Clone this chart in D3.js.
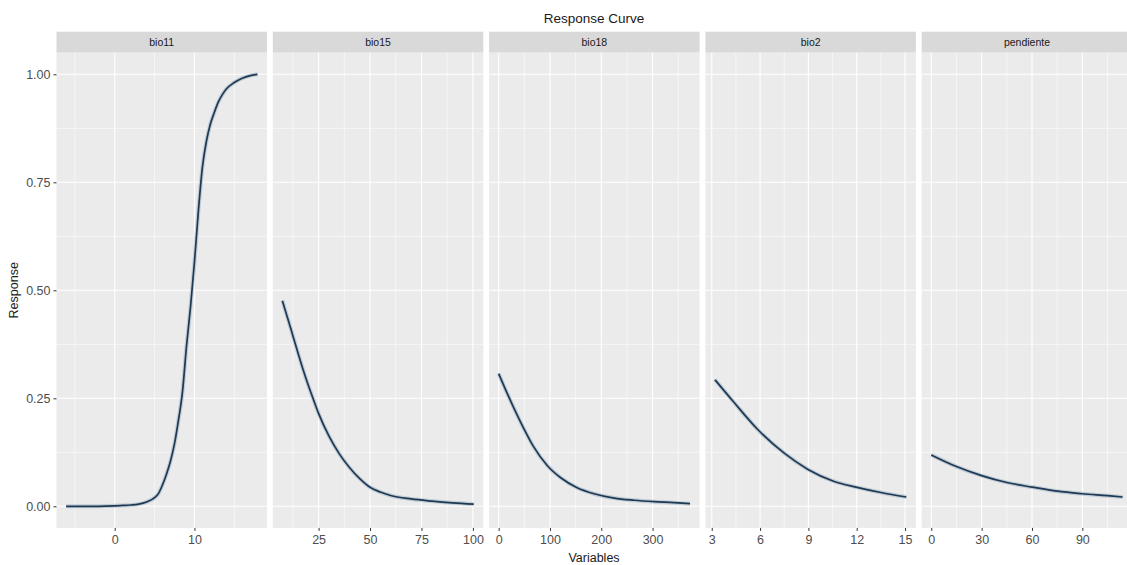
<!DOCTYPE html>
<html><head><meta charset="utf-8">
<script src="https://cdn.jsdelivr.net/npm/d3@7"></script>
<style>
html,body{margin:0;padding:0;background:#fff;overflow:hidden;}
svg{display:block;font-family:"Liberation Sans",Arial,sans-serif;}
</style>
</head><body>
<svg id="chart" width="1127" height="565"></svg>
<script>
// ---- data ----
const panelNames = ["bio11", "bio15", "bio18", "bio2", "pendiente"];

const bio11X = [-6.1,-4,-2,0,1,2,3,4,5,5.5,6,6.5,7,7.5,8,8.5,9,9.5,10,10.5,11,11.5,12,12.5,13,13.5,14,15,16,17,17.9];
const bio11Y = [0,0,0,0.001,0.002,0.003,0.005,0.010,0.020,0.030,0.050,0.075,0.105,0.145,0.200,0.265,0.370,0.460,0.565,0.685,0.785,0.845,0.885,0.912,0.936,0.953,0.966,0.981,0.991,0.997,1.000];

const bio15X = [7.4,10,12.5,15,17.5,20,22.5,25,30,35,40,45,50,55,60,70,80,90,100.4];
const bio15Y = [0.476,0.435,0.395,0.355,0.316,0.280,0.247,0.215,0.163,0.122,0.090,0.064,0.044,0.033,0.025,0.017,0.012,0.008,0.005];

const bio18X = [0,16,29,49,68,95,121,153,186,225,264,303,342,373];
const bio18Y = [0.307,0.263,0.229,0.180,0.138,0.094,0.066,0.043,0.029,0.019,0.014,0.0107,0.0084,0.006];

const bio2X = [3.2,4.35,5.9,7.5,8.95,10.6,11.95,13.5,15.08];
const bio2Y = [0.293,0.242,0.176,0.123,0.086,0.0575,0.0445,0.032,0.0215];

const pendX = [0,15,30,45,60,75,90,105,114];
const pendY = [0.119,0.092,0.071,0.055,0.0445,0.035,0.029,0.0245,0.0215];

const bio11Ticks = [0, 10];
const bio15Ticks = [25, 50, 75, 100];
const bio18Ticks = [0, 100, 200, 300];
const bio2Ticks = [3, 6, 9, 12, 15];
const pendTicks = [0, 30, 60, 90];

const yTicks = [0, 0.25, 0.5, 0.75, 1];
const yTickLabels = ["0.00", "0.25", "0.50", "0.75", "1.00"];

const titleText = "Response Curve";
const xLabel = "Variables";
const yLabel = "Response";

// ---- build panel table ----
const xs = [bio11X, bio15X, bio18X, bio2X, pendX];
const ys = [bio11Y, bio15Y, bio18Y, bio2Y, pendY];
const ticks = [bio11Ticks, bio15Ticks, bio18Ticks, bio2Ticks, pendTicks];
const panels = panelNames.map((name, i) => ({
  name,
  points: xs[i].map((x, j) => ({x, y: ys[i][j]})),
  ticks: ticks[i]
}));

// ---- layout ----
const svg = d3.select("#chart");
const left0 = 56.5, step = 216.3, pw = 210.5;
const stripTop = 31.7, panelTop = 52.7, panelBottom = 527.9;

const y = d3.scaleLinear().domain([-0.05, 1.05]).range([panelBottom, panelTop]);
const yMinor = d3.range(0.125, 1.0, 0.25);

svg.append("text")
  .attr("x", 594).attr("y", 22.5)
  .attr("text-anchor", "middle")
  .attr("font-size", 13.5).attr("fill", "#1a1a1a")
  .text(titleText);

panels.forEach((p, i) => {
  const x0 = left0 + i * step;
  const ext = d3.extent(p.points, d => d.x);
  const pad = (ext[1] - ext[0]) * 0.05;
  const x = d3.scaleLinear().domain([ext[0] - pad, ext[1] + pad]).range([x0, x0 + pw]);
  const g = svg.append("g");

  // strip
  g.append("rect").attr("x", x0).attr("y", stripTop).attr("width", pw)
    .attr("height", panelTop - stripTop).attr("fill", "#d9d9d9");
  g.append("text").attr("x", x0 + pw / 2).attr("y", (stripTop + panelTop) / 2)
    .attr("dy", "0.35em").attr("text-anchor", "middle")
    .attr("font-size", 10.5).attr("fill", "#1a1a1a").text(p.name);

  // panel background
  g.append("rect").attr("x", x0).attr("y", panelTop).attr("width", pw)
    .attr("height", panelBottom - panelTop).attr("fill", "#ebebeb");

  // minor x grid: midpoints between major ticks, extended
  const t = p.ticks, dt = t[1] - t[0];
  const xMinor = d3.range(t[0] - dt / 2, ext[1] + pad + dt, dt)
    .filter(v => v > x.domain()[0] && v < x.domain()[1]);
  const grid = g.append("g");
  grid.selectAll(".ym").data(yMinor).join("line")
    .attr("x1", x0).attr("x2", x0 + pw).attr("y1", d => y(d)).attr("y2", d => y(d))
    .attr("stroke", "#fff").attr("stroke-width", 0.55);
  grid.selectAll(".xm").data(xMinor).join("line")
    .attr("y1", panelTop).attr("y2", panelBottom).attr("x1", d => x(d)).attr("x2", d => x(d))
    .attr("stroke", "#fff").attr("stroke-width", 0.55);
  grid.selectAll(".yM").data(yTicks).join("line")
    .attr("x1", x0).attr("x2", x0 + pw).attr("y1", d => y(d)).attr("y2", d => y(d))
    .attr("stroke", "#fff").attr("stroke-width", 1.1);
  grid.selectAll(".xM").data(t).join("line")
    .attr("y1", panelTop).attr("y2", panelBottom).attr("x1", d => x(d)).attr("x2", d => x(d))
    .attr("stroke", "#fff").attr("stroke-width", 1.1);

  // curve
  const line = d3.line().x(d => x(d.x)).y(d => y(d.y)).curve(d3.curveMonotoneX);
  g.append("path").datum(p.points).attr("d", line)
    .attr("fill", "none").attr("stroke", "#8ea3b8").attr("stroke-opacity", 0.45)
    .attr("stroke-width", 4);
  g.append("path").datum(p.points).attr("d", line)
    .attr("fill", "none").attr("stroke", "#1d3954").attr("stroke-width", 1.7);

  // x axis
  const ax = g.append("g").attr("transform", `translate(0,${panelBottom})`)
    .call(d3.axisBottom(x).tickValues(t).tickSize(3).tickPadding(4.5).tickFormat(d3.format("d")));
  ax.select(".domain").remove();
  ax.selectAll("line").attr("stroke", "#333").attr("stroke-width", 1);
  ax.selectAll("text").attr("font-size", 12.5).attr("fill", "#4d4d4d")
    .attr("font-family", "Liberation Sans, Arial, sans-serif");

  if (i === 0) {
    const ay = g.append("g").attr("transform", `translate(${x0},0)`)
      .call(d3.axisLeft(y).tickValues(yTicks).tickSize(3).tickPadding(3)
        .tickFormat((d, k) => yTickLabels[k]));
    ay.select(".domain").remove();
    ay.selectAll("line").attr("stroke", "#333").attr("stroke-width", 1);
    ay.selectAll("text").attr("font-size", 12.5).attr("fill", "#4d4d4d")
      .attr("font-family", "Liberation Sans, Arial, sans-serif");
  }
});

svg.append("text").attr("x", 594).attr("y", 561.5)
  .attr("text-anchor", "middle").attr("font-size", 12.5).attr("fill", "#1a1a1a")
  .text(xLabel);
svg.append("text")
  .attr("transform", `translate(18,${(panelTop + panelBottom) / 2}) rotate(-90)`)
  .attr("text-anchor", "middle").attr("font-size", 12.5).attr("fill", "#1a1a1a")
  .text(yLabel);
</script>
</body></html>
